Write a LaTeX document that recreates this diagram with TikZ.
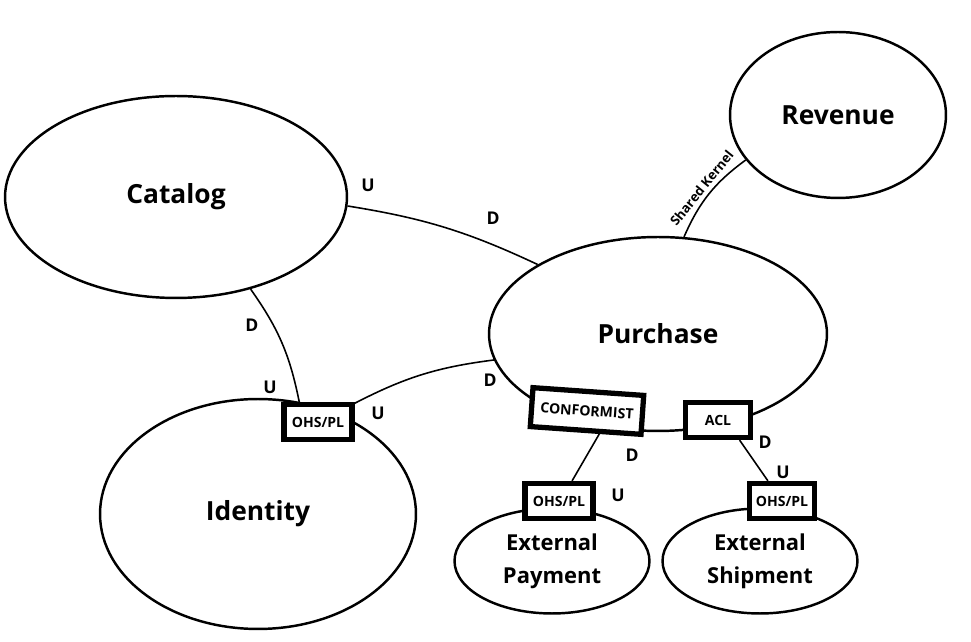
\documentclass[tikz,border=0pt]{standalone}
\usepackage{fontspec}
\setmainfont{Open Sans}
\usetikzlibrary{positioning, shapes.geometric}
\tikzset{
	ctxnode/.style={ellipse, draw, line width=1.4pt, fill=white, inner sep=0pt,
		align=center, font=\bfseries\fontsize{15}{18}\selectfont},
	extnode/.style={ctxnode, font=\bfseries\fontsize{12.5}{19}\selectfont},
	mapbox/.style={rectangle, draw, line width=3pt, fill=white, inner sep=2pt,
		minimum width=1.36cm, minimum height=0.7cm, font=\bfseries\fontsize{8}{10}\selectfont},
	ctxline/.style={line width=0.9pt},
	rellabel/.style={font=\bfseries\fontsize{10}{12}\selectfont}
}
\begin{document}
\begin{tikzpicture}[x=0.02cm, y=0.02cm]
	\useasboundingbox (0,0) rectangle (971,642);
	% bounded contexts
	\node[ctxnode, minimum width=6.84cm, minimum height=4.04cm] (catalog) at (176,445) {Catalog};
	\node[ctxnode, minimum width=4.32cm, minimum height=3.32cm] (revenue) at (838,527) {Revenue};
	\node[ctxnode, minimum width=6.76cm, minimum height=3.88cm] (purchase) at (658,308) {Purchase};
	\node[ctxnode, minimum width=6.32cm, minimum height=4.6cm] (identity) at (258,128) {Identity};
	\node[extnode, minimum width=3.9cm, minimum height=2.1cm] (payment) at (552,81) {External\\Payment};
	\node[extnode, minimum width=3.9cm, minimum height=2.1cm] (shipment) at (760,81) {External\\Shipment};
	% integration patterns
	\node[mapbox] (ohsid) at (318,220) {OHS/PL};
	\node[mapbox, rotate=-4, minimum width=2.22cm, minimum height=0.78cm] (conformist) at (587,231) {CONFORMIST};
	\node[mapbox, minimum width=1.3cm] (acl) at (718,222) {ACL};
	\node[mapbox] (ohspay) at (559,141) {OHS/PL};
	\node[mapbox, minimum width=1.3cm] (ohsship) at (782,141) {OHS/PL};
	% relations
	\draw[ctxline] (catalog.-3) to[bend left=8] (purchase.150);
	\draw[ctxline] (catalog.-51) to[bend left=12] (ohsid.133);
	\draw[ctxline] (ohsid.27) to[bend left=10] (purchase.189);
	\draw[ctxline] (purchase.75) to[bend left=15]
		node[sloped, above, inner sep=2pt, font=\bfseries\fontsize{7.5}{9}\selectfont] {Shared Kernel} (revenue.206);
	\draw[ctxline] (conformist.-58) -- (ohspay.57);
	\draw[ctxline] (acl.-43) -- (ohsship.125);
	% upstream / downstream
	\node[rellabel] (u1) at (368,457) {U};
	\node[rellabel] (d1) at (493,424) {D};
	\node[rellabel] (d2) at (252,317) {D};
	\node[rellabel] (u2) at (270,255) {U};
	\node[rellabel] (u3) at (378,229) {U};
	\node[rellabel] (d3) at (490,262) {D};
	\node[rellabel] (d4) at (632,187) {D};
	\node[rellabel] (u4) at (618,147) {U};
	\node[rellabel] (d5) at (765,200) {D};
	\node[rellabel] (u5) at (783,170) {U};
\end{tikzpicture}
\end{document}
